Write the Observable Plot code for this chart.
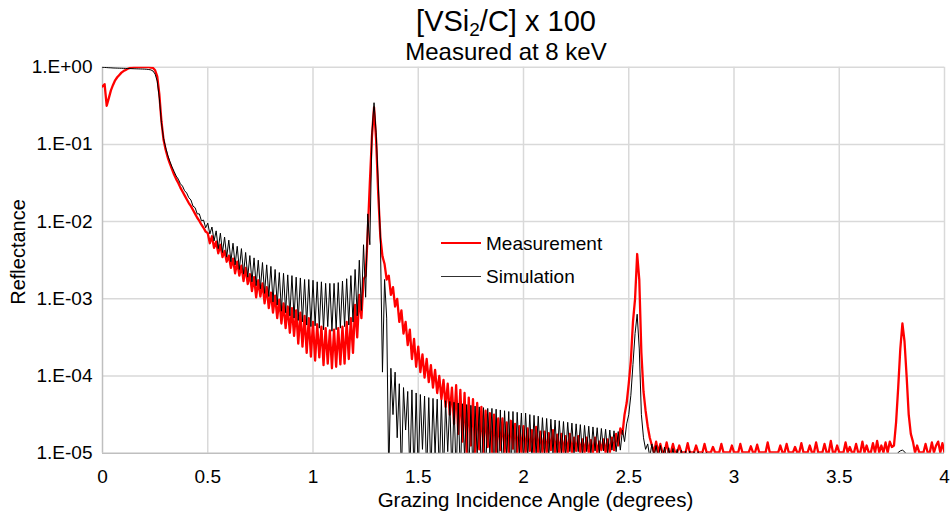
<!DOCTYPE html>
<html><head><meta charset="utf-8">
<script src="https://cdn.jsdelivr.net/npm/d3@7"></script>
<script src="https://cdn.jsdelivr.net/npm/@observablehq/plot@0.6"></script>
<style>
body{margin:0;background:#fff;font-family:"Liberation Sans",Arial,sans-serif;}
#wrap{position:relative;width:952px;height:512px;overflow:hidden;background:#fff;}
#head{position:relative;height:50px;z-index:1;}
.t{position:absolute;left:0;width:1012px;text-align:center;line-height:1;color:#000;white-space:nowrap;}
.lg{position:absolute;font-size:19px;line-height:1;color:#000;white-space:nowrap;}
.ln{position:absolute;}
#ytitle{position:absolute;left:18px;top:252px;font-size:20px;line-height:1;white-space:nowrap;transform:translate(-50%,-50%) rotate(-90deg);}
</style></head>
<body>
<div id="wrap">
  <div id="head">
    <div class="t" style="top:7px;font-size:29px;">[VSi<sub style="font-size:19px;vertical-align:-5px;line-height:0">2</sub>/C] x 100</div>
    <div class="t" style="top:40px;font-size:24px;">Measured at 8 keV</div>
  </div>
  <div id="chart"></div>
  <div id="ytitle">Reflectance</div>
  <div class="ln" style="left:441px;top:242px;width:40px;height:2px;background:#ff0000"></div>
  <div class="lg" style="left:486px;top:234px;">Measurement</div>
  <div class="ln" style="left:441px;top:276px;width:40px;height:1px;background:#303030"></div>
  <div class="lg" style="left:486px;top:267px;">Simulation</div>
</div>
<script>
// Grazing angle sampling (degrees) and tick values
const angleStep = 0.01;
const xTicks = [0, 0.5, 1, 1.5, 2, 2.5, 3, 3.5, 4];
const yTicks = [1, 1e-1, 1e-2, 1e-3, 1e-4, 1e-5];
const seriesNames = ["Measurement", "Simulation"];

// log10(reflectance), measurement, one value per 0.01 deg from 0 to 4
const measLog = [
-0.25,-0.22,-0.50,-0.40,-0.30,-0.23,-0.17,-0.13,-0.10,-0.07,
-0.05,-0.035,-0.02,-0.01,-0.005,0,0,0,0,0,
0,0,0,-0.005,-0.01,-0.04,-0.12,-0.35,-0.70,-0.94,
-1.07,-1.17,-1.25,-1.32,-1.39,-1.45,-1.50,-1.56,-1.61,-1.66,
-1.71,-1.76,-1.80,-1.85,-1.90,-1.95,-1.99,-2.04,-2.08,-2.13,
-2.15,-2.28,-2.19,-2.34,-2.26,-2.41,-2.30,-2.46,-2.38,-2.52,
-2.44,-2.60,-2.48,-2.67,-2.52,-2.70,-2.57,-2.77,-2.60,-2.81,
-2.68,-2.90,-2.72,-2.98,-2.76,-2.97,-2.80,-3.06,-2.85,-3.12,
-2.92,-3.18,-2.96,-3.25,-3.01,-3.32,-3.06,-3.38,-3.10,-3.44,
-3.12,-3.48,-3.15,-3.58,-3.18,-3.62,-3.22,-3.70,-3.25,-3.75,
-3.30,-3.80,-3.33,-3.76,-3.36,-3.86,-3.38,-3.84,-3.41,-3.90,
-3.40,-3.88,-3.38,-3.85,-3.36,-3.84,-3.30,-3.78,-3.25,-3.70,
-3.08,-3.50,-2.95,-3.25,-2.75,-2.70,-2.15,-1.50,-0.90,-0.52,
-0.95,-1.65,-2.20,-2.45,-2.55,-2.75,-2.70,-2.95,-2.85,-3.10,
-3.00,-3.30,-3.15,-3.45,-3.30,-3.60,-3.40,-3.78,-3.52,-3.88,
-3.62,-3.95,-3.72,-4.02,-3.78,-4.08,-3.86,-4.15,-3.92,-4.22,
-4.00,-4.30,-4.05,-4.40,-4.10,-4.50,-4.15,-4.62,-4.12,-4.75,
-4.18,-4.85,-4.22,-4.99,-4.28,-4.90,-4.30,-4.99,-4.35,-4.95,
-4.40,-4.99,-4.45,-4.92,-4.48,-4.99,-4.50,-4.99,-4.55,-4.96,
-4.55,-4.99,-4.60,-4.99,-4.58,-4.94,-4.62,-4.99,-4.65,-4.99,
-4.65,-4.99,-4.68,-4.97,-4.70,-4.99,-4.66,-4.99,-4.72,-4.99,
-4.72,-4.99,-4.74,-4.96,-4.70,-4.99,-4.76,-4.99,-4.75,-4.99,
-4.78,-4.99,-4.75,-4.99,-4.80,-4.97,-4.78,-4.99,-4.82,-4.99,
-4.80,-4.99,-4.83,-4.99,-4.80,-4.99,-4.85,-4.96,-4.82,-4.99,
-4.82,-4.99,-4.80,-4.96,-4.75,-4.90,-4.68,-4.75,-4.50,-4.35,
-4.10,-3.80,-3.30,-3.00,-2.42,-2.75,-3.70,-4.20,-4.45,-4.65,
-4.80,-4.90,-4.99,-4.85,-4.99,-4.88,-4.99,-4.99,-4.86,-4.99,
-4.99,-4.88,-4.99,-4.99,-4.90,-4.99,-4.99,-4.99,-4.87,-4.99,
-4.99,-4.99,-4.90,-4.99,-4.99,-4.99,-4.88,-4.99,-4.99,-4.99,
-4.92,-4.99,-4.99,-4.99,-4.88,-4.99,-4.99,-4.99,-4.99,-4.90,
-4.99,-4.99,-4.99,-4.88,-4.99,-4.99,-4.99,-4.99,-4.91,-4.99,
-4.99,-4.89,-4.99,-4.99,-4.99,-4.99,-4.86,-4.99,-4.99,-4.99,
-4.99,-4.99,-4.90,-4.99,-4.99,-4.88,-4.99,-4.99,-4.99,-4.92,
-4.99,-4.99,-4.87,-4.99,-4.99,-4.99,-4.90,-4.99,-4.99,-4.86,
-4.99,-4.99,-4.99,-4.88,-4.99,-4.99,-4.84,-4.99,-4.99,-4.90,
-4.99,-4.99,-4.99,-4.86,-4.99,-4.92,-4.99,-4.99,-4.88,-4.99,
-4.99,-4.85,-4.99,-4.90,-4.99,-4.99,-4.87,-4.99,-4.84,-4.99,
-4.90,-4.99,-4.86,-4.99,-4.85,-4.92,-4.90,-4.60,-4.15,-3.65,
-3.32,-3.55,-4.00,-4.50,-4.75,-4.85,-4.99,-4.90,-4.99,-4.99,
-4.99,-4.88,-4.99,-4.99,-4.86,-4.99,-4.90,-4.85,-4.99,-4.87,
-4.99
];

// log10(reflectance), simulation, one value per 0.01 deg from 0 to 4
const simLog = [
0,-0.003,-0.005,-0.007,-0.008,-0.01,-0.011,-0.012,-0.013,-0.014,
-0.015,-0.016,-0.017,-0.018,-0.019,-0.02,-0.021,-0.022,-0.023,-0.024,
-0.025,-0.027,-0.03,-0.035,-0.05,-0.09,-0.18,-0.40,-0.72,-0.92,
-1.04,-1.14,-1.22,-1.29,-1.35,-1.41,-1.45,-1.51,-1.54,-1.60,
-1.63,-1.69,-1.72,-1.80,-1.82,-1.90,-1.90,-1.99,-1.98,-2.08,
-2.02,-2.16,-2.07,-2.25,-2.12,-2.35,-2.15,-2.40,-2.20,-2.46,
-2.24,-2.52,-2.28,-2.56,-2.32,-2.62,-2.35,-2.68,-2.40,-2.72,
-2.44,-2.78,-2.47,-2.83,-2.50,-2.87,-2.53,-2.93,-2.56,-2.97,
-2.58,-3.04,-2.62,-3.08,-2.66,-3.16,-2.67,-3.18,-2.69,-3.22,
-2.70,-3.25,-2.72,-3.28,-2.73,-3.30,-2.75,-3.34,-2.75,-3.36,
-2.76,-3.35,-2.78,-3.38,-2.78,-3.40,-2.80,-3.36,-2.80,-3.42,
-2.80,-3.40,-2.79,-3.38,-2.77,-3.36,-2.74,-3.34,-2.70,-3.30,
-2.62,-3.22,-2.50,-3.15,-2.30,-2.98,-1.90,-2.30,-0.85,-0.46,
-0.85,-1.50,-2.20,-3.95,-2.75,-3.25,-5.30,-3.90,-4.50,-3.95,
-4.80,-4.10,-5.30,-4.15,-4.70,-4.20,-5.30,-4.18,-5.30,-4.22,
-5.30,-4.24,-4.95,-4.26,-5.30,-4.28,-5.30,-4.29,-5.00,-4.30,
-5.30,-4.31,-5.30,-4.32,-4.98,-4.33,-5.30,-4.34,-5.30,-4.35,
-5.30,-4.36,-5.05,-4.37,-5.30,-4.38,-5.30,-4.39,-5.02,-4.40,
-5.30,-4.41,-5.30,-4.42,-5.00,-4.42,-5.30,-4.43,-5.30,-4.44,
-5.30,-4.45,-5.04,-4.46,-5.30,-4.46,-5.30,-4.47,-5.02,-4.48,
-5.10,-4.48,-5.05,-4.50,-5.10,-4.51,-5.02,-4.52,-5.08,-4.54,
-5.02,-4.55,-5.06,-4.56,-5.00,-4.57,-5.05,-4.58,-5.00,-4.59,
-5.04,-4.60,-4.98,-4.61,-5.03,-4.62,-4.98,-4.63,-5.02,-4.64,
-4.98,-4.65,-5.02,-4.66,-4.97,-4.67,-5.00,-4.68,-4.97,-4.69,
-5.00,-4.70,-4.96,-4.71,-4.98,-4.72,-4.96,-4.70,-4.85,-4.62,
-4.50,-4.25,-3.85,-3.45,-3.20,-3.65,-4.50,-4.80,-4.95,-4.88,
-5.05,-4.88,-5.05,-4.90,-5.08,-4.90,-5.05,-4.92,-5.10,-4.93,
-5.10,-4.94,-5.10,-4.95,-5.12,-4.96,-5.10,-4.97,-5.15,-4.97,
-5.15,-4.98,-5.15,-4.98,-5.20,-4.99,-5.20,-4.99,-5.20,-5.00,
-5.20,-5.00,-5.20,-5.01,-5.20,-5.02,-5.20,-5.02,-5.20,-5.03,
-5.20,-5.04,-5.20,-5.05,-5.20,-5.05,-5.20,-5.06,-5.20,-5.06,
-5.20,-5.07,-5.20,-5.07,-5.20,-5.08,-5.20,-5.08,-5.20,-5.09,
-5.20,-5.09,-5.20,-5.10,-5.20,-5.10,-5.20,-5.10,-5.20,-5.11,
-5.20,-5.11,-5.20,-5.11,-5.20,-5.12,-5.20,-5.12,-5.20,-5.12,
-5.20,-5.13,-5.20,-5.13,-5.20,-5.13,-5.20,-5.13,-5.20,-5.14,
-5.20,-5.14,-5.20,-5.14,-5.20,-5.14,-5.20,-5.14,-5.20,-5.14,
-5.20,-5.14,-5.20,-5.13,-5.20,-5.12,-5.20,-5.11,-5.20,-5.10,
-5.20,-5.09,-5.15,-5.08,-5.12,-5.06,-5.08,-5.02,-4.99,-4.97,
-4.96,-4.98,-5.02,-5.06,-5.10,-5.14,-5.20,-5.14,-5.20,-5.15,
-5.20,-5.15,-5.20,-5.16,-5.20,-5.16,-5.20,-5.17,-5.20,-5.17,
-5.20
];

const rows = measLog.map((m, i) => ({
  angle: Math.round(i * angleStep * 100) / 100,
  meas: Math.pow(10, m),
  sim: Math.pow(10, simLog[i])
}));

const fmtY = d => {
  const e = Math.round(Math.log10(d));
  return "1.E" + (e < 0 ? "-" : "+") + String(Math.abs(e)).padStart(2, "0");
};

const chart = Plot.plot({
  width: 952,
  height: 462,
  marginLeft: 102,
  marginRight: 8,
  marginTop: 16.7,
  marginBottom: 59.3,
  style: {fontFamily: "'Liberation Sans', Arial, sans-serif", fontSize: "19px", color: "#000", background: "transparent"},
  x: {domain: [0, 4]},
  y: {type: "log", domain: [1e-5, 1]},
  marks: [
    Plot.gridX(xTicks.slice(1), {stroke: "#d9d9d9", strokeOpacity: 1, strokeWidth: 1.5}),
    Plot.gridY(yTicks.slice(0, -1), {stroke: "#d9d9d9", strokeOpacity: 1, strokeWidth: 1.5}),
    Plot.ruleX([0], {stroke: "#bfbfbf", strokeWidth: 1.5}),
    Plot.ruleY([1e-5], {stroke: "#bfbfbf", strokeWidth: 1.5}),
    Plot.lineY(rows, {x: "angle", y: "meas", stroke: "#ff0000", strokeWidth: 2.3, clip: true}),
    Plot.lineY(rows, {x: "angle", y: "sim", stroke: "#000000", strokeWidth: 1, clip: true}),
    Plot.axisX({ticks: xTicks, tickSize: 0, tickPadding: 16, tickFormat: d => String(d), label: null, fontSize: 19}),
    Plot.axisY({ticks: yTicks, tickSize: 0, tickPadding: 10, tickFormat: fmtY, label: null, fontSize: 19}),
    Plot.text(["Grazing Incidence Angle (degrees)"], {text: d => d, frameAnchor: "bottom", dy: 54, dx: 12, fontSize: 20.5})
  ]
});
document.getElementById("chart").appendChild(chart);
</script>
</body></html>
